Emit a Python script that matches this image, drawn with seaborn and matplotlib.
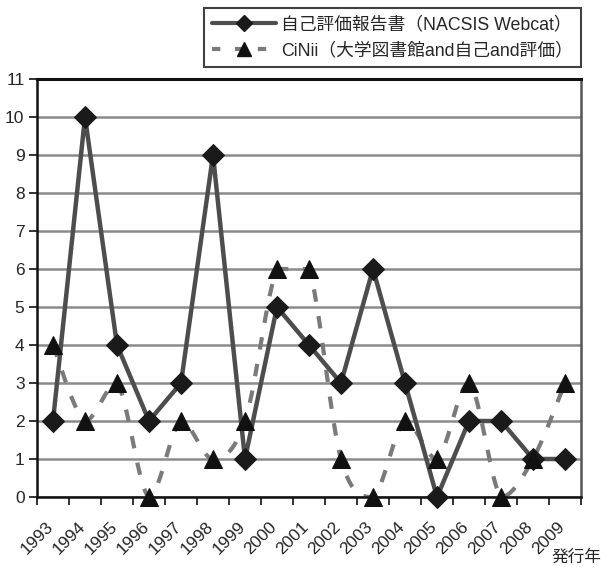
import numpy as np
import pandas as pd
import matplotlib
matplotlib.use("Agg")
import matplotlib.pyplot as plt
import matplotlib.transforms as mtransforms
import seaborn as sns
from matplotlib.lines import Line2D

years = list(range(1993, 2010))
nacsis = [2, 10, 4, 2, 3, 9, 1, 5, 4, 3, 6, 3, 0, 2, 2, 1, 1]
cinii = [4, 2, 3, 0, 2, 1, 2, 6, 6, 1, 0, 2, 1, 3, 0, 1, 3]
label1 = "自己評価報告書（NACSIS Webcat）"
label2 = "CiNii（大学図書館and自己and評価）"

sns.set_theme(style="white")
plt.rcParams['font.family'] = ['Liberation Sans', 'Noto Sans CJK JP', 'DejaVu Sans']

df = pd.DataFrame({"pos": np.arange(len(years)) + 0.5, "nacsis": nacsis, "cinii": cinii})

fig = plt.figure(figsize=(6.07, 5.67), dpi=100)
ax = fig.add_axes([37/607, 1-497/567, (581-37)/607, (497-79)/567])

# smoothed dashed curve (Bezier through data points, control points clamped per segment)
def smooth(x, y, n=24):
    x = np.asarray(x, float); y = np.asarray(y, float)
    px = np.concatenate([[x[0]], x, [x[-1]]]); py = np.concatenate([[y[0]], y, [y[-1]]])
    xs, ys = [], []
    for i in range(1, len(px)-2):
        p0 = np.array([px[i-1], py[i-1]]); p1 = np.array([px[i], py[i]])
        p2 = np.array([px[i+1], py[i+1]]); p3 = np.array([px[i+2], py[i+2]])
        c1 = p1 + (p2 - p0) / 6
        c2 = p2 - (p3 - p1) / 6
        lo, hi = min(p1[1], p2[1]), max(p1[1], p2[1])
        c1[1] = np.clip(c1[1], lo, hi); c2[1] = np.clip(c2[1], lo, hi)
        t = np.linspace(0, 1, n)[:, None]
        pts = (1-t)**3*p1 + 3*(1-t)**2*t*c1 + 3*(1-t)*t**2*c2 + t**3*p2
        xs.extend(pts[:, 0]); ys.extend(pts[:, 1])
    return np.array(xs), np.array(ys)

sx, sy = smooth(df["pos"], df["cinii"])
ax.plot(sx, sy, color="#7a7a7a", lw=3, dashes=(3, 3.5), zorder=2)
sns.lineplot(data=df, x="pos", y="cinii", ax=ax, lw=0, marker="^", markersize=13,
             color="#111111", markeredgecolor="#111111", zorder=6, clip_on=False)
sns.lineplot(data=df, x="pos", y="nacsis", ax=ax, lw=3.2, color="#4d4d4d", marker="D",
             markersize=11.5, markerfacecolor="#1a1a1a", markeredgecolor="#1a1a1a", zorder=5,
             clip_on=False)

ax.set_xlim(0, len(years))
ax.set_ylim(0, 11)
ax.set_yticks(range(0, 12))
ax.set_xticks(np.arange(len(years) + 1))
ax.set_xticklabels([str(y) for y in years] + [""], rotation=45, ha="right", rotation_mode="anchor")
ax.tick_params(axis="x", labelsize=12.5, length=6, width=1.2, color="#111111", direction="out", pad=3, bottom=True)
ax.tick_params(axis="y", labelsize=12.5, length=6, width=1.2, color="#111111", direction="out", pad=3, left=True)
off = mtransforms.ScaledTranslation(6/72, -7/72, fig.dpi_scale_trans)
for lab in ax.get_xticklabels():
    lab.set_transform(lab.get_transform() + off)
ax.set_xlabel(""); ax.set_ylabel("")
ax.grid(axis="y", color="#8a8a8a", lw=1.8)
ax.set_axisbelow(True)
for s in ["left", "bottom"]:
    ax.spines[s].set_color("#111111"); ax.spines[s].set_linewidth(1.8)
ax.spines["top"].set_color("#111111"); ax.spines["top"].set_linewidth(2.2)
ax.spines["right"].set_color("#555555"); ax.spines["right"].set_linewidth(1.8)
ax.spines["left"].set_zorder(4); ax.spines["bottom"].set_zorder(4)

handles = [
    Line2D([], [], color="#4d4d4d", lw=3, marker="D", markersize=8, markerfacecolor="#1a1a1a", markeredgecolor="#1a1a1a"),
    Line2D([], [], color="#7a7a7a", lw=3, dashes=(2, 3.5), marker="^", markersize=10, markerfacecolor="#111111", markeredgecolor="#111111"),
]
leg = fig.legend(handles, [label1, label2], loc="upper right", bbox_to_anchor=(581/607, 1-8/567),
                 frameon=True, fancybox=False, handlelength=3.6, borderaxespad=0,
                 borderpad=0.45, labelspacing=0.5, handletextpad=0.3,
                 prop={"family": ['Liberation Sans', 'Noto Sans CJK JP'], "size": 12.8})
leg.get_frame().set_edgecolor("#111111")
leg.get_frame().set_linewidth(1.5)

fig.text(601/607, 1-566/567, "発行年", ha="right", va="bottom", fontsize=12,
         family=['Noto Sans CJK JP', 'DejaVu Sans'])

fig.savefig("out.png", dpi=100)
